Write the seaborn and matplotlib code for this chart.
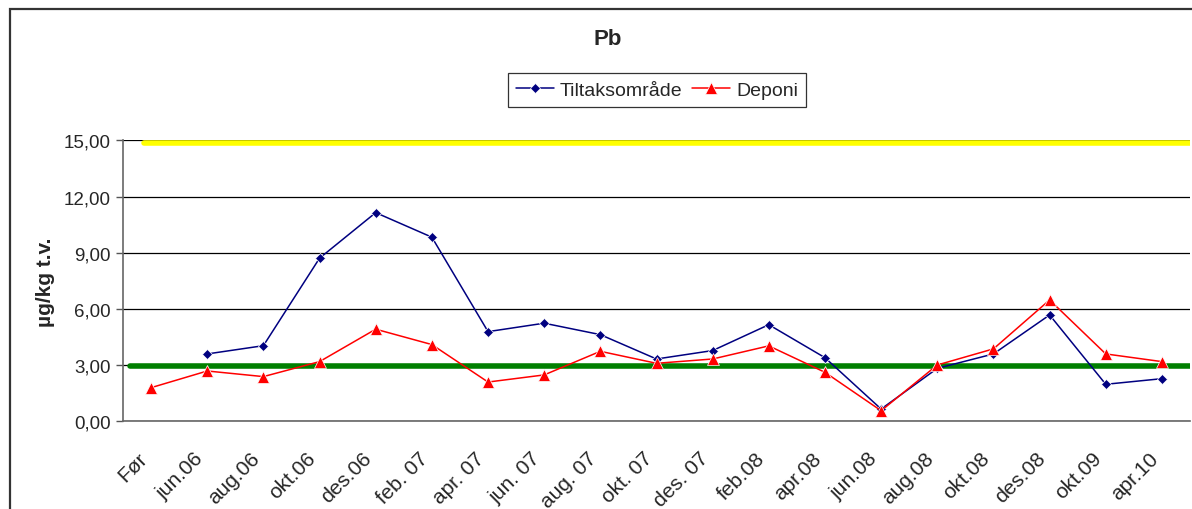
import numpy as np
import pandas as pd
import matplotlib
matplotlib.use("Agg")
import matplotlib.pyplot as plt
import seaborn as sns
from matplotlib.ticker import FuncFormatter, FixedLocator
from matplotlib.patches import Rectangle
from matplotlib.transforms import ScaledTranslation

# data
categories = ["Før", "jun.06", "aug.06", "okt.06", "des.06", "feb. 07", "apr. 07",
              "jun. 07", "aug. 07", "okt. 07", "des. 07", "feb.08", "apr.08",
              "jun.08", "aug.08", "okt.08", "des.08", "okt.09", "apr.10"]
tiltak = [np.nan, 3.60, 4.04, 8.71, 11.14, 9.83, 4.79, 5.24, 4.63, 3.33, 3.78,
          5.16, 3.40, 0.66, 2.83, 3.60, 5.68, 1.98, 2.28]
deponi = [1.80, 2.69, 2.39, 3.19, 4.92, 4.10, 2.10, 2.48, 3.74, 3.10, 3.33,
          4.03, 2.62, 0.57, 3.01, 3.87, 6.48, 3.60, 3.19]
upper_limit = 14.85   # yellow reference line
lower_limit = 2.97    # green reference line
y_ticks = [0, 3, 6, 9, 12, 15]

df = pd.DataFrame({"idx": range(len(categories)), "kategori": categories,
                   "Tiltaksområde": tiltak, "Deponi": deponi})

sns.set_theme(style="white")
plt.rcParams["font.family"] = ["Liberation Sans", "DejaVu Sans"]

fig = plt.figure(figsize=(11.92, 5.10), dpi=100)
ax = fig.add_axes([123 / 1192, 1 - 422.4 / 510, (1190 - 123) / 1192, (422.4 - 141.3) / 510])

# chart frame (cropped at right/bottom like the reference)
fig.patches.append(Rectangle((10 / 1192, -0.1), 1.2, 1 - 10 / 510 + 0.1,
                             transform=fig.transFigure, fill=False,
                             edgecolor="#333333", linewidth=1.6, zorder=0))

ax.yaxis.grid(True, color="black", linewidth=0.9)
ax.set_axisbelow(True)

ax.axhline(upper_limit, xmin=0.02, xmax=1, color="#ffff00", linewidth=4, zorder=2)
ax.axhline(lower_limit, xmin=0.007, xmax=1, color="#007f00", linewidth=4, zorder=2)

sns.lineplot(data=df, x="idx", y="Tiltaksområde", ax=ax, color="#000080",
             marker="D", markersize=5.5, markeredgewidth=0.5, linewidth=1.1,
             label="Tiltaksområde", zorder=3)
sns.lineplot(data=df, x="idx", y="Deponi", ax=ax, color="#ff0000",
             marker="^", markersize=8, markeredgewidth=0.5, linewidth=1.1,
             label="Deponi", zorder=3)

ax.set_xlim(-0.5, len(categories) - 0.5)
ax.set_ylim(0, 15)
ax.set_yticks(y_ticks)
ax.yaxis.set_major_formatter(FuncFormatter(lambda v, p: f"{v:.2f}".replace(".", ",")))

ax.set_xticks(range(len(categories)))
ax.set_xticklabels(categories, rotation=45, ha="right", va="bottom",
                   rotation_mode="anchor")
shift = ScaledTranslation(-7 / 100, 0, fig.dpi_scale_trans)
for lab in ax.get_xticklabels():
    lab.set_transform(lab.get_transform() + shift)
ax.xaxis.set_minor_locator(FixedLocator(np.arange(-0.5, len(categories), 1)))
ax.tick_params(axis="x", which="major", length=0, pad=29, labelsize=15)
ax.tick_params(axis="x", which="minor", length=5, width=1, color="#555555", direction="out")
ax.tick_params(axis="y", length=5, width=1, color="#555555", direction="out",
               left=True, labelsize=13.5, pad=4)

for s in ["top", "right"]:
    ax.spines[s].set_visible(False)
for s in ["left", "bottom"]:
    ax.spines[s].set_color("#666666")
    ax.spines[s].set_linewidth(1.2)

ax.set_xlabel("")
ax.set_ylabel("µg/kg t.v.", fontsize=15, fontweight="bold", labelpad=6)

fig.text(608 / 1192, 1 - 40 / 510, "Pb", ha="center", va="center",
         fontsize=16, fontweight="bold")

leg = ax.legend(loc="center", bbox_to_anchor=(657 / 1192, 1 - 91 / 510),
                bbox_transform=fig.transFigure, ncol=2, fontsize=14,
                frameon=True, fancybox=False, handlelength=1.95,
                handletextpad=0.3, columnspacing=0.5, borderpad=0.4)
leg.get_frame().set_edgecolor("black")
leg.get_frame().set_linewidth(0.9)

fig.savefig("out.png", dpi=100)
